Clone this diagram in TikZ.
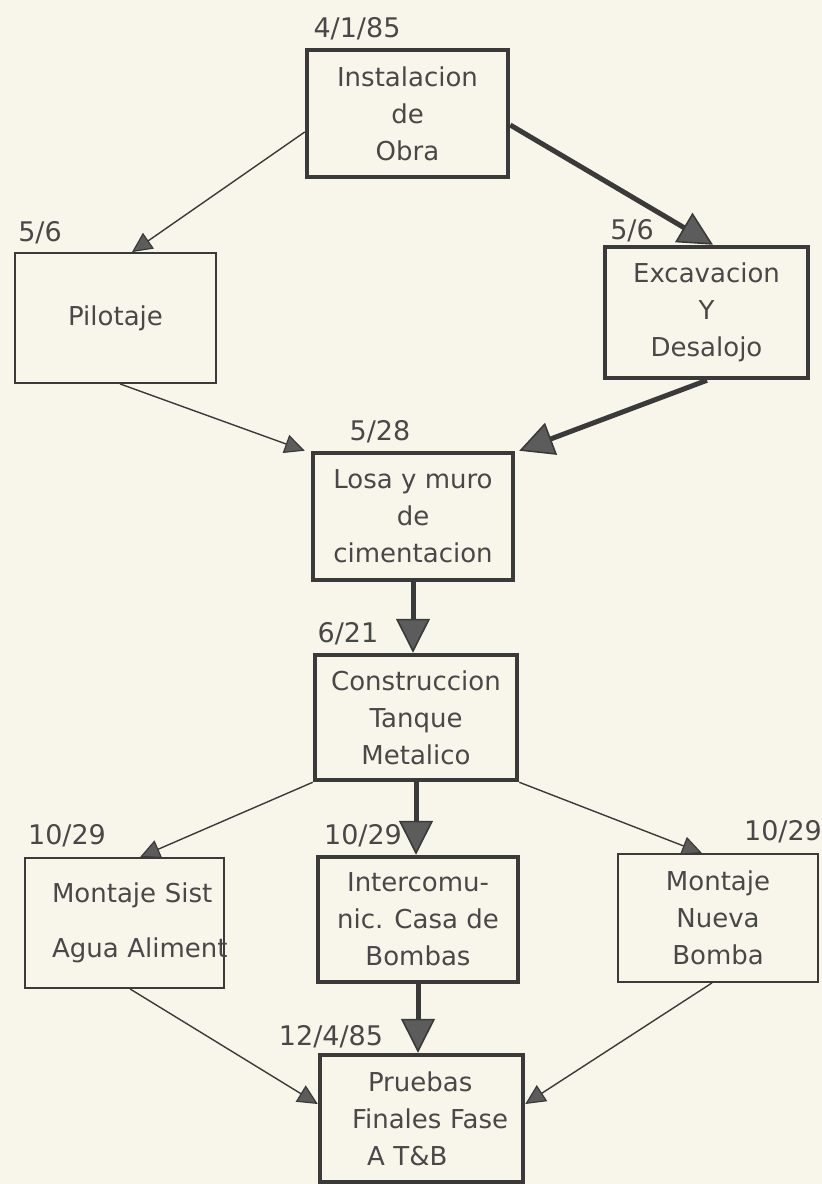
\documentclass[tikz,border=0pt]{standalone}
\usepackage{fontspec}
\setmainfont{DejaVu Sans}
\usetikzlibrary{arrows.meta,calc}
\definecolor{paper}{RGB}{248,246,234}
\definecolor{ink}{RGB}{58,58,58}
\definecolor{txt}{RGB}{72,72,72}
\definecolor{headfill}{RGB}{92,92,92}

\begin{document}
\begin{tikzpicture}[x=1pt,y=-1pt,
  every node/.style={text=txt, font=\fontsize{26}{37}\selectfont},
  task/.style={draw=ink, fill=paper, inner sep=0pt, align=center},
  critical/.style={task, line width=4.5pt},
  normal/.style={task, line width=1.8pt},
  date/.style={inner sep=0pt, font=\fontsize{27}{30}\selectfont},
  link/.style={draw=ink, line width=1.4pt,
    -{Triangle[length=20pt,width=19pt,line width=1.2pt,fill=headfill]}},
  critlink/.style={draw=ink, line width=5pt,
    -{Triangle[length=34pt,width=34pt,line width=1.6pt,fill=headfill]}},
]
\fill[paper] (0,0) rectangle (822,1184);
\useasboundingbox (0,0) rectangle (822,1184);

% activities
\node[critical, minimum width=201pt, minimum height=127pt] (inst) at (407.5,113.5)
  {Instalacion\\de\\Obra};
\node[normal, minimum width=201pt, minimum height=130pt] (pil) at (115.5,318)
  {Pilotaje};
\node[critical, minimum width=203pt, minimum height=131pt] (exc) at (706.5,312.5)
  {Excavacion\\Y\\Desalojo};
\node[critical, minimum width=200pt, minimum height=127pt] (losa) at (413,516.5)
  {Losa y muro\\de\\cimentacion};
\node[critical, minimum width=202pt, minimum height=125pt] (cons) at (416,717.5)
  {Construccion\\Tanque\\Metalico};
\node[normal, minimum width=199pt, minimum height=130pt, align=left,
      inner xsep=27pt, text width=145pt] (sist) at (124.5,923)
  {\mbox{Montaje Sist}\\[18pt]\mbox{Agua Aliment}};
\node[critical, minimum width=200pt, minimum height=125pt] (inter) at (418,919.5)
  {Intercomu-\\nic. Casa de\\Bombas};
\node[normal, minimum width=200pt, minimum height=128pt] (nueva) at (718,918)
  {Montaje\\Nueva\\Bomba};
\node[critical, minimum width=203pt, minimum height=127pt, align=left,
      inner xsep=32pt, text width=139pt] (prue) at (421.5,1118.5)
  {\mbox{\hspace*{16pt}Pruebas}\\\mbox{Finales Fase}\\\mbox{\hspace*{15pt}A T\&B}};

% start dates
\node[date] (d-inst)  at (357,29)   {4/1/85};
\node[date] (d-pil)   at (40,233)   {5/6};
\node[date] (d-exc)   at (632,231)  {5/6};
\node[date] (d-losa)  at (380,432)  {5/28};
\node[date] (d-cons)  at (348,634)  {6/21};
\node[date] (d-sist)  at (67,836)   {10/29};
\node[date] (d-inter) at (363,836)  {10/29};
\node[date] (d-nueva) at (783,832)  {10/29};
\node[date] (d-prue)  at (331,1037) {12/4/85};

% dependencies
\draw[link] ([yshift=-18.5pt]inst.west) -- ([xshift=16.5pt]pil.north);
\draw[critlink] ([yshift=-11.5pt]inst.east) -- ([xshift=6.5pt]exc.north);
\draw[link] ([xshift=4.5pt]pil.south) -- ([xshift=-6pt]losa.north west);
\draw[critlink] ([xshift=0.5pt]exc.south) -- ([xshift=4pt]losa.north east);
\draw[critlink] (losa.south) -- (losa.south |- cons.north);
\draw[link] (cons.south west) -- ([xshift=15.5pt]sist.north);
\draw[critlink] (cons.south) -- (cons.south |- inter.north);
\draw[link] (cons.south east) -- ([xshift=-16pt]nueva.north);
\draw[link] ([xshift=5.5pt]sist.south) -- ([yshift=14.5pt]prue.west);
\draw[critlink] (inter.south) -- (inter.south |- prue.north);
\draw[link] ([xshift=-6pt]nueva.south) -- ([yshift=14.5pt]prue.east);
\end{tikzpicture}
\end{document}
